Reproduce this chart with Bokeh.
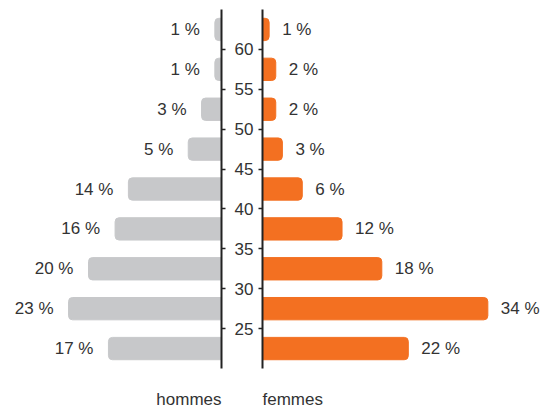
from bokeh.plotting import figure
from bokeh.layouts import row
from bokeh.models import Range1d, FixedTicker, Title, ColumnDataSource
from bokeh.core.properties import value
from bokeh.embed import file_html
from bokeh.resources import INLINE

# Data (top to bottom: oldest to youngest age group)
age_mid = [62.5, 57.5, 52.5, 47.5, 42.5, 37.5, 32.5, 27.5, 22.5]
hommes = [1, 1, 3, 5, 14, 16, 20, 23, 17]
femmes = [1, 2, 2, 3, 6, 12, 18, 34, 22]
age_ticks = [25, 30, 35, 40, 45, 50, 55, 60]
group_labels = ["hommes", "femmes"]

FONT = "Liberation Sans"
TXT = "#333333"
AXIS = "#222222"
GRAY = "#c7c8ca"
ORANGE = "#f37021"

src_h = ColumnDataSource(dict(y=age_mid, v=hommes, t=[f"{v} %" for v in hommes]))
src_f = ColumnDataSource(dict(y=age_mid, v=femmes, t=[f"{v} %" for v in femmes]))


def style(p, label, align):
    p.xgrid.visible = False
    p.ygrid.visible = False
    p.outline_line_color = None
    p.background_fill_color = None
    p.border_fill_color = None
    ax = p.yaxis[0]
    ax.ticker = FixedTicker(ticks=age_ticks)
    ax.axis_line_color = AXIS
    ax.axis_line_width = 2
    ax.major_tick_line_color = AXIS
    ax.major_tick_line_width = 1.5
    ax.major_tick_in = 0
    ax.major_tick_out = 4
    ax.minor_tick_line_color = None
    ax.major_label_text_font = FONT
    ax.major_label_text_font_size = "17px"
    ax.major_label_text_color = TXT
    # invisible bottom axis: only a spacer between the bars and the group name
    xa = p.xaxis[0]
    xa.ticker = FixedTicker(ticks=[10])
    xa.axis_line_color = None
    xa.major_tick_line_color = None
    xa.minor_tick_line_color = None
    xa.major_tick_in = 0
    xa.major_tick_out = 19
    xa.major_label_standoff = 0
    xa.major_label_text_font_size = "0px"
    xa.major_label_text_color = None
    p.add_layout(Title(text=label, align=align, text_font=FONT,
                       text_font_size="17px", text_font_style="normal",
                       text_color=TXT, standoff=0), "below")


# Left panel (hommes)
pl = figure(width=231, height=408, x_range=Range1d(33.23, 0), y_range=Range1d(20, 65),
            x_axis_location="below", y_axis_location="right",
            toolbar_location=None, output_backend="svg",
            min_border_left=0, min_border_right=10, min_border_top=9, min_border_bottom=39)
style(pl, group_labels[0], "right")
pl.yaxis[0].major_label_text_font_size = "0px"
pl.yaxis[0].major_label_text_color = None
pl.yaxis[0].major_label_standoff = 0
pl.hbar(y="y", left=0, right="v", height=2.8, source=src_h, color=GRAY,
        border_radius=(4, 0, 0, 4))
pl.text(x="v", y="y", text="t", source=src_h, x_offset=-15, text_align="right",
        text_baseline="middle", text_font=value(FONT), text_font_size="17px", text_color=TXT)

# Right panel (femmes)
pr = figure(width=314, height=408, x_range=Range1d(0, 42.7), y_range=pl.y_range,
            x_axis_location="below", y_axis_location="left",
            toolbar_location=None, output_backend="svg",
            min_border_left=30, min_border_right=0, min_border_top=9, min_border_bottom=39)
style(pr, group_labels[1], "left")
pr.yaxis[0].major_label_standoff = 5
pr.hbar(y="y", left=0, right="v", height=2.8, source=src_f, color=ORANGE,
        border_radius=(0, 4, 4, 0))
pr.text(x="v", y="y", text="t", source=src_f, x_offset=13, text_align="left",
        text_baseline="middle", text_font=value(FONT), text_font_size="17px", text_color=TXT)

layout = row(pl, pr)
open("out.html", "w").write(file_html(layout, INLINE))
